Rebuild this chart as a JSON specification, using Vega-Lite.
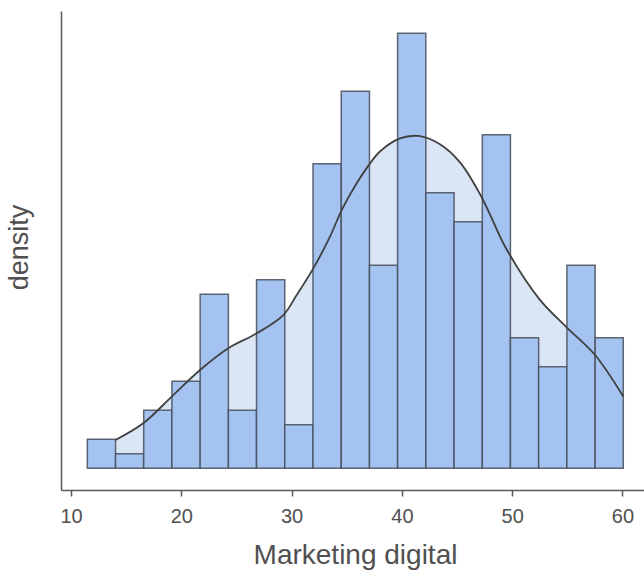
{
  "$schema": "https://vega.github.io/schema/vega-lite/v6.json",
  "width": 583,
  "height": 479,
  "autosize": {"type": "none"},
  "padding": {"left": 61, "top": 11, "right": 0, "bottom": 82},
  "background": "white",
  "config": {
    "view": {"stroke": null},
    "axis": {
      "grid": false,
      "domainColor": "#5a5a5a",
      "domainWidth": 1.5,
      "tickColor": "#5a5a5a",
      "tickWidth": 1.5,
      "labelFont": "Liberation Sans",
      "titleFont": "Liberation Sans",
      "labelColor": "#505050",
      "titleColor": "#505050",
      "titleFontWeight": "normal"
    }
  },
  "datasets": {
    "bins": [
      {"start": 11.48, "end": 14.04, "count": 2},
      {"start": 14.04, "end": 16.59, "count": 1},
      {"start": 16.59, "end": 19.15, "count": 4},
      {"start": 19.15, "end": 21.71, "count": 6},
      {"start": 21.71, "end": 24.27, "count": 12},
      {"start": 24.27, "end": 26.82, "count": 4},
      {"start": 26.82, "end": 29.38, "count": 13},
      {"start": 29.38, "end": 31.94, "count": 3},
      {"start": 31.94, "end": 34.50, "count": 21},
      {"start": 34.50, "end": 37.06, "count": 26},
      {"start": 37.06, "end": 39.61, "count": 14},
      {"start": 39.61, "end": 42.17, "count": 30},
      {"start": 42.17, "end": 44.73, "count": 19},
      {"start": 44.73, "end": 47.29, "count": 17},
      {"start": 47.29, "end": 49.84, "count": 23},
      {"start": 49.84, "end": 52.40, "count": 9},
      {"start": 52.40, "end": 54.96, "count": 7},
      {"start": 54.96, "end": 57.52, "count": 14},
      {"start": 57.52, "end": 60.07, "count": 9}
    ],
    "curve": [
      {"x": 14.04, "y": 1.95},
      {"x": 16.55, "y": 3.10},
      {"x": 19.13, "y": 4.94},
      {"x": 21.70, "y": 6.78},
      {"x": 24.26, "y": 8.28},
      {"x": 26.84, "y": 9.31},
      {"x": 29.25, "y": 10.57},
      {"x": 30.46, "y": 11.95},
      {"x": 31.97, "y": 13.79},
      {"x": 33.48, "y": 15.97},
      {"x": 34.54, "y": 17.81},
      {"x": 35.90, "y": 19.66},
      {"x": 37.11, "y": 21.03},
      {"x": 38.01, "y": 21.85},
      {"x": 39.83, "y": 22.75},
      {"x": 41.49, "y": 22.92},
      {"x": 43.45, "y": 22.35},
      {"x": 45.27, "y": 21.10},
      {"x": 47.09, "y": 18.90},
      {"x": 48.26, "y": 17.05},
      {"x": 49.35, "y": 15.30},
      {"x": 52.52, "y": 11.61},
      {"x": 54.94, "y": 9.72},
      {"x": 57.51, "y": 7.81},
      {"x": 60.07, "y": 4.95}
    ]
  },
  "resolve": {"scale": {"x": "shared", "y": "shared"}},
  "layer": [
    {
      "data": {"name": "curve"},
      "mark": {"type": "area", "color": "#dae5f6", "interpolate": "catmull-rom"},
      "encoding": {
        "x": {
          "field": "x",
          "type": "quantitative",
          "scale": {"domain": [9.093, 61.95], "nice": false, "zero": false},
          "axis": {
            "values": [10, 20, 30, 40, 50, 60],
            "tickSize": 6,
            "labelFontSize": 20,
            "labelPadding": 10,
            "title": "Marketing digital",
            "titleFontSize": 28,
            "titleBaseline": "alphabetic",
            "titleY": 73,
            "titleX": 294
          }
        },
        "y": {
          "field": "y",
          "type": "quantitative",
          "scale": {"domain": [-1.5, 31.54], "nice": false, "zero": false},
          "axis": {
            "ticks": false,
            "labels": false,
            "title": "density",
            "titleFontSize": 27,
            "titleAngle": 270,
            "titleBaseline": "alphabetic",
            "titleX": -34,
            "titleY": 236
          }
        },
        "y2": {"datum": 0}
      }
    },
    {
      "data": {"name": "bins"},
      "mark": {
        "type": "bar",
        "fill": "#a4c3f0",
        "stroke": "#464e5a",
        "strokeWidth": 1.5,
        "strokeOpacity": 0.85
      },
      "encoding": {
        "x": {"field": "start", "type": "quantitative"},
        "x2": {"field": "end"},
        "y": {"field": "count", "type": "quantitative"},
        "y2": {"datum": 0}
      }
    },
    {
      "data": {"name": "curve"},
      "mark": {"type": "line", "color": "#404040", "strokeWidth": 1.8, "interpolate": "catmull-rom"},
      "encoding": {
        "x": {"field": "x", "type": "quantitative"},
        "y": {"field": "y", "type": "quantitative"}
      }
    }
  ]
}
